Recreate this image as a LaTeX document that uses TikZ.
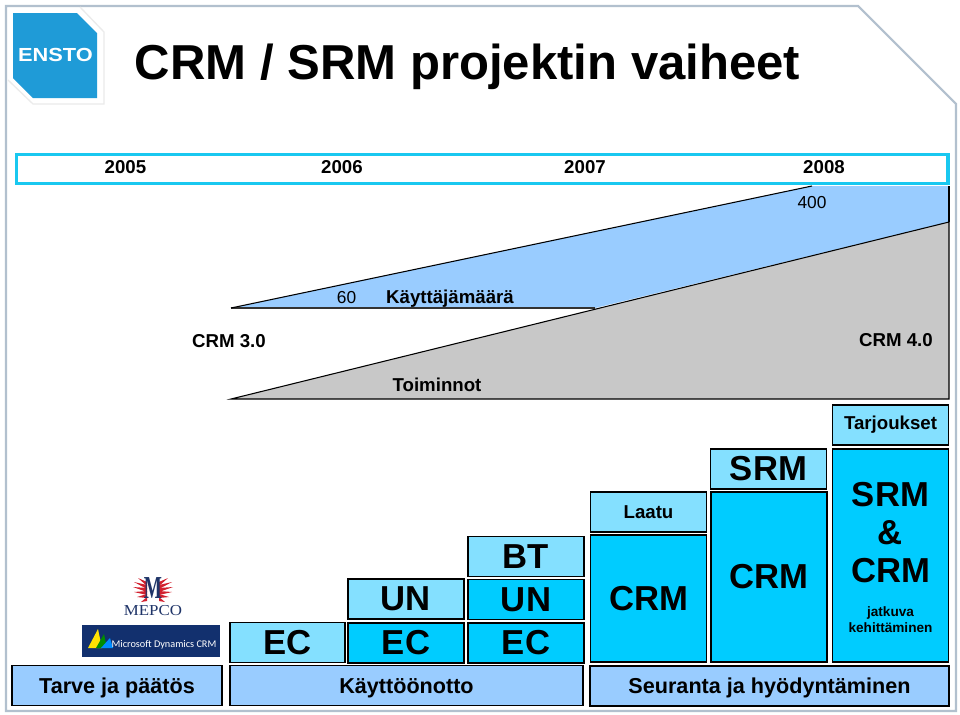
\documentclass[tikz,border=0pt]{standalone}
\usepackage{fontspec}
\setmainfont{Liberation Sans}
\newfontfamily\seriffont{Liberation Serif}
\newfontfamily\logofont{Carlito}
\definecolor{tilelight}{HTML}{84E0FF}
\definecolor{tilecyan}{HTML}{00CCFF}
\definecolor{tileblue}{HTML}{99CCFF}
\definecolor{wedgegrey}{HTML}{C8C8C8}
\definecolor{yearcyan}{HTML}{19C8F0}
\definecolor{framegrey}{HTML}{B2C0CE}
\definecolor{enstoblue}{HTML}{1F9BD7}
\definecolor{mepcored}{HTML}{D2202E}
\definecolor{mepconavy}{HTML}{1F3468}
\definecolor{dynnavy}{HTML}{12306E}
\tikzset{
  tile/.style={draw=black,line width=1.2pt,minimum width=87pt,minimum height=30pt,inner sep=0pt,text=black},
  big/.style={font=\fontsize{26}{26}\bfseries},
  mid/.style={font=\fontsize{16.2}{16}\bfseries,text height=14pt,text depth=2.5pt},
  small/.style={font=\fontsize{14}{14}\bfseries},
  lab/.style={font=\fontsize{13}{13}\selectfont,inner sep=0pt},
}
\begin{document}
\begin{tikzpicture}[x=0.75pt,y=-0.75pt]
\useasboundingbox (0,0) rectangle (960,714);
\fill[white] (0,0) rectangle (960,714);
% frame
\draw[framegrey,line width=1.6pt] (6,711)--(6,6)--(858,6)--(956,104)--(956,711)--cycle;
% logo
\draw[black!8,line width=1pt] (80,7)--(104,32)--(104,104)--(33,104)--(8,80);
\fill[enstoblue] (13,13)--(77,13)--(97,33)--(97,98)--(33,98)--(13,78)--cycle;
\node[white,inner sep=0pt,font=\fontsize{14.2}{14}\bfseries,xscale=1.15] (ensto) at (55.5,55) {ENSTO};
% title
\node[font=\fontsize{36.8}{36}\bfseries,inner sep=0pt] (title) at (467.5,67) {CRM / SRM projektin vaiheet};
% wedges
\fill[tileblue] (231,308)--(812,186)--(949,186)--(949,222)--(595,308)--cycle;
\draw[black,line width=0.8pt] (949,186)--(949,222);
\draw[black!80,line width=1.1pt] (595,308)--(231,308);
\draw[black,line width=0.8pt] (231,308)--(812,186);
\filldraw[fill=wedgegrey,draw=black,line width=0.8pt] (231,399)--(949,222)--(949,399)--cycle;
% years
\node[draw=yearcyan,line width=2.4pt,fill=white,minimum width=698.5pt,minimum height=22pt,inner sep=0pt] (years) at (482.3,169) {};
\node[small,inner sep=0pt] (y2005) at (125.5,167.5) {2005};
\node[small,inner sep=0pt] (y2006) at (342,167.5) {2006};
\node[small,inner sep=0pt] (y2007) at (585,167.5) {2007};
\node[small,inner sep=0pt] (y2008) at (824,167.5) {2008};
% labels on the wedges
\node[lab] (n400) at (812,203) {400};
\node[lab] (n60) at (346.5,298) {60};
\node[lab,font=\fontsize{14}{14}\bfseries] (users) at (450,299) {Käyttäjämäärä};
\node[lab,font=\fontsize{14}{14}\bfseries] (crm3) at (229,341) {CRM 3.0};
\node[lab,font=\fontsize{14}{14}\bfseries] (crm4) at (896,340) {CRM 4.0};
\node[lab,font=\fontsize{14}{14}\bfseries] (func) at (437,385) {Toiminnot};
% mepco
\foreach \tipx/\tipy/\basey in {138/578/584,134/582/587,133/587/590,134/592/593,137/597/596,141/602/599}{
  \fill[mepcored] (147,\basey-2)--(\tipx,\tipy)--(147,\basey+2)--cycle;
  \fill[mepcored] (159,\basey-2)--(306-\tipx,\tipy)--(159,\basey+2)--cycle;
}
\node[text=mepconavy,inner sep=0pt,xscale=0.6,font=\seriffont\fontsize{24}{24}\bfseries] (mepcom) at (153,588) {M};
\node[text=mepconavy,inner sep=0pt,xscale=1.11,font=\seriffont\fontsize{11.4}{11}\selectfont] (mepco) at (153,610.5) {MEPCO};
% dynamics
\fill[dynnavy] (82,625) rectangle (220,657);
\fill[yellow!85!orange] (88,648)--(98,629)--(102,648)--cycle;
\fill[green!55!black] (96,648)--(104,634)--(107,648)--cycle;
\fill[blue!45!cyan] (101,648)--(110,638)--(113,648)--cycle;
\node[white,inner sep=0pt,font=\logofont\fontsize{7.7}{8}\selectfont] (dyn) at (164,645) {Microsoft Dynamics CRM};
% tiles
\node[tile,big,fill=tilelight,minimum width=86pt] (ecA) at (287.5,642.5) {EC};
\node[tile,big,fill=tilecyan] (ecB) at (406,643) {EC};
\node[tile,big,fill=tilelight] (unA) at (406,599) {UN};
\node[tile,big,fill=tilecyan] (ecC) at (526,643) {EC};
\node[tile,big,fill=tilecyan] (unB) at (526,599.5) {UN};
\node[tile,big,fill=tilelight] (bt) at (526,556.5) {BT};
\node[tile,small,font=\fontsize{14}{14}\bfseries,fill=tilelight] (laatu) at (648.5,512) {Laatu};
\node[tile,big,fill=tilecyan,minimum height=95pt] (crmA) at (648.5,598.5) {CRM};
\node[tile,big,fill=tilelight] (srm) at (768.5,469) {SRM};
\node[tile,big,fill=tilecyan,minimum height=127.5pt] (crmB) at (769,577) {CRM};
\node[tile,small,fill=tilelight] (offers) at (890.5,425) {Tarjoukset};
\node[tile,fill=tilecyan,minimum height=160pt] (both) at (890.5,555.5) {};
\node[big,inner sep=0pt] (bothA) at (890.5,495) {SRM};
\node[big,inner sep=0pt] (bothB) at (890.5,533) {\&};
\node[big,inner sep=0pt] (bothC) at (890.5,571) {CRM};
\node[font=\fontsize{10.2}{10}\bfseries,inner sep=0pt] (contA) at (890.5,613) {jatkuva};
\node[font=\fontsize{10.2}{10}\bfseries,inner sep=0pt] (contB) at (890.5,628) {kehittäminen};
% phases
\node[tile,mid,fill=tileblue,minimum width=157.5pt] (need) at (117,685.5) {Tarve ja päätös};
\node[tile,mid,fill=tileblue,minimum width=265pt] (rollout) at (406.5,685.5) {Käyttöönotto};
\node[tile,mid,fill=tileblue,minimum width=269pt] (follow) at (769.5,686) {Seuranta ja hyödyntäminen};
\end{tikzpicture}
\end{document}
